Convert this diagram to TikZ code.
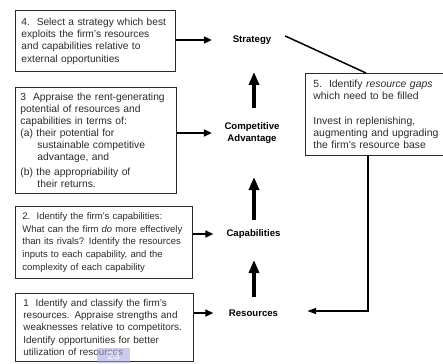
\documentclass[tikz,border=0pt]{standalone}
\usepackage{fontspec}
\setmainfont{Liberation Sans}
\usetikzlibrary{arrows.meta,calc}
\definecolor{ink}{HTML}{2A2A2A}
\definecolor{wmcol}{HTML}{A8A8E2}
\tikzset{
  box/.style={draw=ink, line width=0.9pt, rectangle, anchor=north west, align=left,
    inner ysep=0pt, text=ink},
  lbl/.style={font=\bfseries\fontsize{9.6}{11.5}\selectfont, align=center, minimum width=80pt, inner sep=0pt},
  harrow/.style={line width=2.2pt, -{Triangle[length=8pt,width=7pt]}},
  varrow/.style={line width=3.2pt, -{Triangle[length=13pt,width=10pt]}},
  fline/.style={line width=1.5pt},
  farrow/.style={line width=1.5pt, -{Triangle[length=9pt,width=6pt]}}
}
\begin{document}
\begin{tikzpicture}[x=1pt,y=-1pt]
\useasboundingbox (0,0) rectangle (443,363);
% boxes
\node[box, font=\fontsize{10.2}{12.3}\selectfont, inner xsep=6pt, text width=148pt, minimum width=160pt, minimum height=61pt] (b4) at (15,10)
 {4.\ \ Select a strategy which best\\exploits the firm’s resources\\and capabilities relative to\\external opportunities};
\node[box, font=\fontsize{10.3}{11.9}\selectfont, inner xsep=5pt, text width=151pt, minimum width=161pt, minimum height=106pt] (b3) at (15,87)
 {3\ \ Appraise the rent-generating\\potential of resources and\\capabilities in terms of:\\(a) their potential for\\\hspace*{17pt}sustainable competitive\\\hspace*{17pt}advantage, and\\[3pt](b) the appropriability of\\\hspace*{17pt}their returns.};
\node[box, font=\fontsize{9.5}{12.7}\selectfont, inner xsep=7pt, text width=163pt, minimum width=177pt, minimum height=72pt] (b2) at (15,206)
 {2.\ \ Identify the firm’s capabilities:\\What can the firm \textit{do} more effectively\\than its rivals? Identify the resources\\inputs to each capability, and the\\complexity of each capability};
\node[box, font=\fontsize{9.9}{12.3}\selectfont, inner xsep=8pt, text width=162pt, minimum width=178pt, minimum height=68pt] (b1) at (15,293)
 {1\ \ Identify and classify the firm’s\\resources. Appraise strengths and\\weaknesses relative to competitors.\\Identify opportunities for better\\utilization of resources};
\node[box, font=\fontsize{10.4}{12.3}\selectfont, inner xsep=8pt, text width=132pt, minimum width=148pt, minimum height=82pt] (b5) at (305,73)
 {5.\ \ Identify \textit{resource gaps}\\which need to be filled\\[12.3pt]Invest in replenishing,\\augmenting and upgrading\\the firm’s resource base};
% labels
\node[lbl] (str) at (252,40) {Strategy};
\node[lbl] (ca) at (252,133) {Competitive\\Advantage};
\node[lbl] (cap) at (253.5,234) {Capabilities};
\node[lbl] (res) at (253.5,313) {Resources};
% horizontal arrows
\draw[harrow] (b4.east |- str.west) -- (str.west);
\draw[harrow] (b3.east |- ca.west) -- (ca.west);
\draw[harrow] (b2.east |- cap.west) -- (cap.west);
\draw[harrow] (b1.east |- res.west) -- (res.west);
% vertical arrows
\draw[varrow] ($(ca.center)+(2,-25)$) -- ($(str.center)+(2,32)$);
\draw[varrow] ($(cap.center)+(0.5,-14)$) -- ($(ca.center)+(2,44)$);
\draw[varrow] ($(res.center)+(0.5,-16)$) -- ($(cap.center)+(0.5,26)$);
% feedback loop
\draw[fline] ($(str.east)+(-7,-4)$) -- ($(b5.north west)+(61,0)$);
\draw[farrow] ($(b5.south west)+(63,0)$) |- ($(res.east)+(13.5,-2)$);
% page number overlay
\node[fill=wmcol, fill opacity=0.6, text opacity=0.9, text=white, minimum width=33pt, minimum height=15pt, inner sep=0pt, font=\fontsize{11}{12}\selectfont] (wm) at (113.5,355.5) {23};
\end{tikzpicture}
\end{document}
